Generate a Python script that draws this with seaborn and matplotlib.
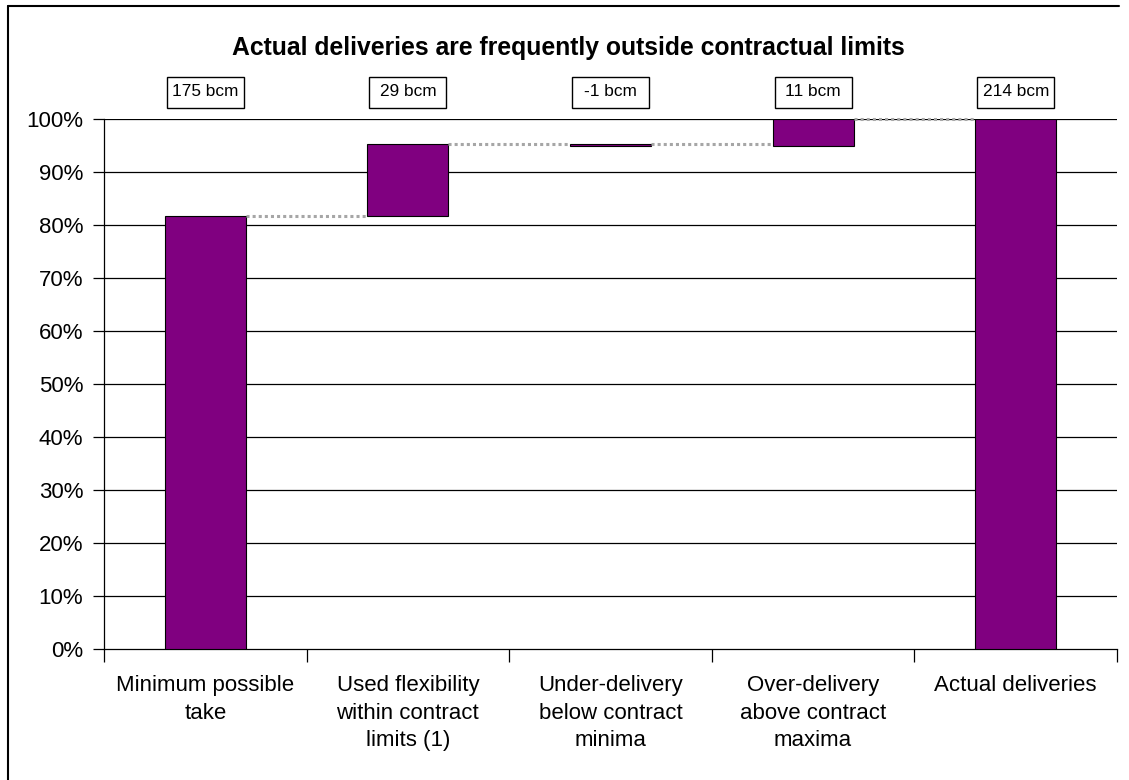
import numpy as np
import pandas as pd
import matplotlib
matplotlib.use("Agg")
import matplotlib.pyplot as plt
import matplotlib.transforms as mtransforms
from matplotlib.patches import Rectangle
from matplotlib.lines import Line2D
import seaborn as sns

# ---- data ----
categories = ["Minimum possible\ntake", "Used flexibility\nwithin contract\nlimits (1)",
              "Under-delivery\nbelow contract\nminima", "Over-delivery\nabove contract\nmaxima",
              "Actual deliveries"]
values_bcm = [175, 29, -1, 11, 214]
box_labels = ["175 bcm", "29 bcm", "-1 bcm", "11 bcm", "214 bcm"]
is_total = [True, False, False, False, True]
yticks = [0, 10, 20, 30, 40, 50, 60, 70, 80, 90, 100]

total = values_bcm[-1]
bottoms, tops = [], []
running = 0.0
for v, t in zip(values_bcm, is_total):
    if t:
        b, top = 0.0, v / total * 100
        running = v
    else:
        b = running / total * 100
        running += v
        top = running / total * 100
    bottoms.append(b)
    tops.append(top)
heights = [t - b for t, b in zip(tops, bottoms)]

df = pd.DataFrame({"cat": categories, "h": heights})

sns.set_theme(style="white")
plt.rcParams["font.family"] = ["Liberation Sans", "DejaVu Sans"]

fig = plt.figure(figsize=(11.29, 7.80), dpi=100)
W, H = 1129, 780
ax = fig.add_axes([104 / W, 1 - 649 / H, (1117 - 104) / W, (649 - 119) / H])

sns.barplot(data=df, x="cat", y="h", ax=ax, color="#800080", saturation=1,
            width=0.4, edgecolor="black", linewidth=0.8, zorder=3)
for p, b in zip(ax.patches, bottoms):
    p.set_y(b)

ax.set_xlim(-0.5, 4.5)
ax.set_ylim(0, 100)
ax.set_yticks(yticks)
ax.set_yticklabels([f"{v}%" for v in yticks])
ax.set_xlabel("")
ax.set_ylabel("")

# gridlines
ax.grid(False)
for v in yticks[1:]:
    ax.axhline(v, color="black", lw=0.9, zorder=1)

for s in ["top", "right"]:
    ax.spines[s].set_visible(False)
for s in ["left", "bottom"]:
    ax.spines[s].set_color("black")
    ax.spines[s].set_linewidth(0.9)

ax.tick_params(axis="y", length=8, width=0.9, color="black", pad=7,
               labelsize=16, labelcolor="black", left=True, direction="out")
ax.set_xticks(range(len(categories)))
ax.set_xticklabels(categories)
ax.set_xticks(np.arange(-0.5, len(categories), 1.0), minor=True)
ax.tick_params(axis="x", which="major", length=0, pad=19, labelsize=16, labelcolor="black")
ax.tick_params(axis="x", which="minor", length=9, width=0.9, color="black",
               bottom=True, direction="out")
for lab in ax.get_xticklabels():
    lab.set_linespacing(1.4)

# connectors (dotted) at the top level of each bar
half = 0.2
for i in range(len(categories) - 1):
    lvl = max(bottoms[i], tops[i])
    ax.plot([i + half, i + 1 - half], [lvl, lvl], color="#a6a6a6", lw=2.2,
            linestyle=(0, (1, 1)), zorder=4, solid_capstyle="butt", clip_on=False)

# value boxes above the axes
trans = mtransforms.blended_transform_factory(ax.transData, ax.transAxes)
y0 = (649 - 108) / 530
y1 = (649 - 77) / 530
for i, lab in enumerate(box_labels):
    rect = Rectangle((i - 0.19, y0), 0.38, y1 - y0, transform=trans, fill=False,
                     edgecolor="black", lw=1.0, clip_on=False)
    ax.add_patch(rect)
    ax.text(i, (y0 + y1) / 2 + 0.002, lab, transform=trans, ha="center", va="center",
            fontsize=12.4, color="black")

# title
fig.text(568 / W, 1 - 55 / H, "Actual deliveries are frequently outside contractual limits",
         ha="center", va="baseline", fontsize=17.8, fontweight="bold", color="black")

# partial frame around chart
fig.add_artist(Line2D([8 / W, 1119 / W], [1 - 6 / H, 1 - 6 / H], transform=fig.transFigure,
                      color="black", lw=1.5))
fig.add_artist(Line2D([8 / W, 8 / W], [1 - 6 / H, 0], transform=fig.transFigure,
                      color="black", lw=1.5))

fig.savefig("out.png", dpi=100)
